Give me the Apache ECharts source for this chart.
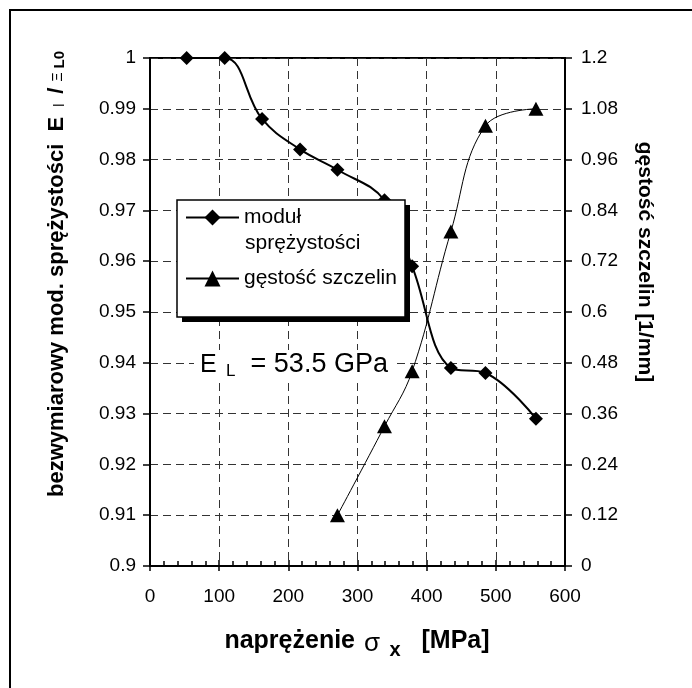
<!DOCTYPE html>
<html>
<head>
<meta charset="utf-8">
<script src="https://cdn.jsdelivr.net/npm/echarts@6/dist/echarts.min.js"></script>
<style>
  html, body { margin: 0; padding: 0; background: #fff; }
  #chart { width: 692px; height: 688px; }
</style>
</head>
<body>
<div id="chart"></div>
<script>
// stress values (MPa) shared by both series
const stress = [53, 108, 162, 217, 271, 339, 379, 435, 485, 558];
// dimensionless elastic modulus E_l / E_L0
const modulus = [1, 1, 0.988, 0.982, 0.978, 0.972, 0.959, 0.939, 0.938, 0.929];
// crack density [1/mm], measured from 271 MPa on
const crackDensity = [null, null, null, null, 0.12, 0.33, 0.46, 0.79, 1.04, 1.08];

const xTicks = { min: 0, max: 600, interval: 100 };
const leftTicks = { min: 0.9, max: 1, interval: 0.01 };
const rightTicks = { min: 0, max: 1.2, interval: 0.12 };

const seriesNames = ["moduł sprężystości", "gęstość szczelin"];

const FONT = "'Liberation Sans', Arial, sans-serif";

const chart = echarts.init(document.getElementById("chart"), null, { renderer: "canvas" });

const modPoints = stress.map((x, i) => [x, modulus[i]]);
const crackPoints = stress
  .map((x, i) => [x, crackDensity[i]])
  .filter((p) => p[1] !== null);

const tickLine = { color: "#000", width: 1.5 };
const dashed = { color: "#333", width: 1, type: [8, 5] };

const option = {
  animation: false,
  backgroundColor: "#fff",
  textStyle: { fontFamily: FONT, color: "#000" },
  grid: [
    { left: 150, right: 127, top: 58, bottom: 122, show: true, borderColor: "#000", borderWidth: 2, backgroundColor: "transparent" },
    { left: 150, right: 127, top: 58, bottom: 122, show: false }
  ],
  xAxis: [
    {
      type: "value",
      gridIndex: 0,
      min: xTicks.min,
      max: xTicks.max,
      interval: xTicks.interval,
      axisLine: { show: true, lineStyle: { color: "#000", width: 2 } },
      axisTick: { show: true, inside: false, length: 5, lineStyle: tickLine },
      axisLabel: { fontSize: 19, color: "#000", margin: 21, fontFamily: FONT },
      splitLine: { show: true, lineStyle: dashed }
    },
    {
      // inner ticks + minor ticks of the bottom axis
      type: "value",
      gridIndex: 1,
      min: xTicks.min,
      max: xTicks.max,
      interval: xTicks.interval,
      axisLine: { show: false },
      axisTick: { show: true, inside: true, length: 6, lineStyle: tickLine },
      minorTick: { show: true, splitNumber: 5, length: 5, lineStyle: { color: "#000", width: 1.5 } },
      axisLabel: { show: false },
      splitLine: { show: false }
    }
  ],
  yAxis: [
    {
      type: "value",
      gridIndex: 0,
      position: "left",
      min: leftTicks.min,
      max: leftTicks.max,
      interval: leftTicks.interval,
      axisLine: { show: true, lineStyle: { color: "#000", width: 2 } },
      axisTick: { show: true, inside: false, length: 6, lineStyle: tickLine },
      axisLabel: { fontSize: 19, color: "#000", margin: 14, fontFamily: FONT },
      splitLine: { show: true, lineStyle: dashed }
    },
    {
      type: "value",
      gridIndex: 0,
      position: "right",
      min: rightTicks.min,
      max: rightTicks.max,
      interval: rightTicks.interval,
      axisLine: { show: true, lineStyle: { color: "#000", width: 2 } },
      axisTick: { show: true, inside: false, length: 7, lineStyle: tickLine },
      axisLabel: { fontSize: 19, color: "#000", margin: 16, fontFamily: FONT },
      splitLine: { show: false }
    },
    {
      // inner half of the crossing ticks on the right axis
      type: "value",
      gridIndex: 1,
      position: "right",
      min: rightTicks.min,
      max: rightTicks.max,
      interval: rightTicks.interval,
      axisLine: { show: false },
      axisTick: { show: true, inside: true, length: 7, lineStyle: tickLine },
      axisLabel: { show: false },
      splitLine: { show: false }
    }
  ],
  legend: {
    orient: "vertical",
    left: 177,
    top: 200,
    z: 20,
    padding: [7, 8, 27, 8],
    itemGap: 40,
    itemWidth: 53,
    itemHeight: 20,
    backgroundColor: "transparent",
    selectedMode: false,
    data: seriesNames,
    formatter: (name) => (name === seriesNames[0] ? "moduł" : name),
    textStyle: { fontSize: 21, color: "#000", fontFamily: FONT }
  },
  graphic: [
    {
      type: "rect",
      z: -10,
      silent: true,
      shape: { x: 10, y: 10, width: 740, height: 740 },
      style: { fill: "none", stroke: "#000", lineWidth: 2 }
    },
    {
      // legend shadow
      type: "rect",
      z: 10,
      silent: true,
      shape: { x: 182, y: 205, width: 228, height: 117 },
      style: { fill: "#000" }
    },
    {
      // legend box
      type: "rect",
      z: 11,
      silent: true,
      shape: { x: 177, y: 200, width: 228, height: 117 },
      style: { fill: "#fff", stroke: "#000", lineWidth: 1.5 }
    },
    {
      // second line of the first legend entry
      type: "text",
      z: 100,
      x: 245,
      y: 243,
      style: { text: "sprężystości", font: "21px " + FONT, fill: "#000", verticalAlign: "middle" }
    },
    {
      type: "text",
      z: 12,
      x: 194,
      y: 365,
      style: {
        text: "{a|E}{l|  L}{c|  = 53.5 GPa}",
        fill: "#000",
        verticalAlign: "middle",
        backgroundColor: "#fff",
        padding: [0, 9, 0, 6],
        rich: {
          a: { fontSize: 25, fontFamily: FONT, lineHeight: 30 },
          l: { fontSize: 17, fontFamily: FONT, lineHeight: 22, verticalAlign: "bottom" },
          c: { fontSize: 27, fontFamily: FONT, lineHeight: 30 }
        }
      }
    },
    {
      type: "text",
      z: 100,
      x: 357,
      y: 641,
      style: {
        text: "{b|naprężenie }{s|σ}{x| x}{b|   [MPa]}",
        fill: "#000",
        align: "center",
        verticalAlign: "middle",
        rich: {
          b: { fontSize: 25, fontWeight: "bold", fontFamily: FONT, lineHeight: 32 },
          s: { fontSize: 26, fontFamily: FONT, padding: [6, 2, 0, 2], lineHeight: 32 },
          x: { fontSize: 20, fontWeight: "bold", fontFamily: FONT, padding: [18, 0, 0, 2], lineHeight: 32 }
        }
      }
    },
    {
      type: "text",
      z: 100,
      x: 57,
      y: 274,
      rotation: Math.PI / 2,
      style: {
        text: "{b|bezwymiarowy mod. sprężystości  E }{r| l }{b| / }{s|Ξ }{t|L0}",
        fill: "#000",
        align: "center",
        verticalAlign: "middle",
        rich: {
          b: { fontSize: 22, fontWeight: "bold", fontFamily: FONT, lineHeight: 28 },
          r: { fontSize: 14, fontFamily: FONT, padding: [6, 0, 0, 0], lineHeight: 28 },
          s: { fontSize: 14, fontFamily: FONT, padding: [2, 0, 0, 0], lineHeight: 28 },
          t: { fontSize: 15, fontWeight: "bold", fontFamily: FONT, padding: [6, 0, 0, 0], lineHeight: 28 }
        }
      }
    },
    {
      type: "text",
      z: 100,
      x: 645,
      y: 262,
      rotation: -Math.PI / 2,
      style: {
        text: "gęstość szczelin [1/mm]",
        font: "bold 21px " + FONT,
        fill: "#000",
        align: "center",
        verticalAlign: "middle"
      }
    }
  ],
  series: [
    {
      name: seriesNames[0],
      type: "line",
      xAxisIndex: 0,
      yAxisIndex: 0,
      data: modPoints,
      smooth: 0.4,
      clip: false,
      symbol: "diamond",
      symbolSize: 14,
      itemStyle: { color: "#000" },
      lineStyle: { color: "#000", width: 2 },
      z: 3
    },
    {
      name: seriesNames[1],
      type: "line",
      xAxisIndex: 0,
      yAxisIndex: 1,
      data: crackPoints,
      smooth: 0.4,
      clip: false,
      symbol: "triangle",
      symbolSize: [15, 14],
      itemStyle: { color: "#000" },
      lineStyle: { color: "#000", width: 1 },
      z: 3
    }
  ]
};

chart.setOption(option);
</script>
</body>
</html>
